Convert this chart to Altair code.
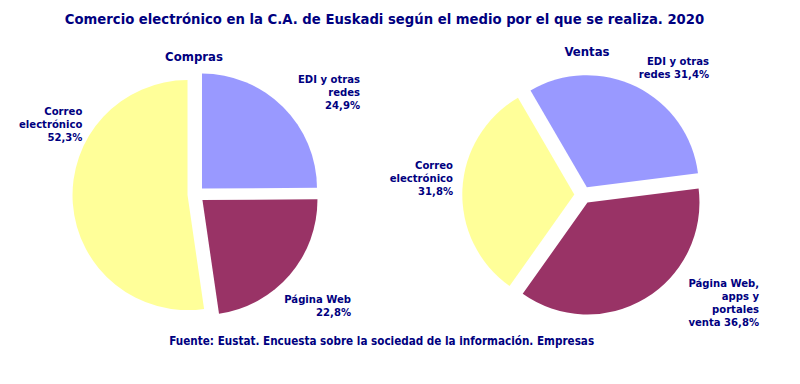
import math
import altair as alt
import pandas as pd

# ---- data ----
categories = ["EDI y otras redes", "Página Web", "Correo electrónico"]
compras_values = [24.9, 22.8, 52.3]
ventas_values = [31.4, 36.8, 31.8]
compras_label_templates = ["EDI y otras\nredes\n{v}%", "Página Web\n{v}%", "Correo\nelectrónico\n{v}%"]
ventas_label_templates = ["EDI y otras\nredes {v}%", "Página Web,\napps y\nportales\nventa {v}%", "Correo\nelectrónico\n{v}%"]
slice_colors = ["#9999FF", "#993366", "#FFFF99"]
title_text = "Comercio electrónico en la C.A. de Euskadi según el medio por el que se realiza. 2020"
pie_titles = ["Compras", "Ventas"]
source_text = "Fuente: Eustat. Encuesta sobre la sociedad de la información. Empresas"

# ---- style / layout ----
FONT = "DejaVu Sans Condensed, Tahoma, DejaVu Sans"
NAVY = "#000080"
W, H = 784, 368
OFF = 8  # page margin (page coords -> chart coords)
LINE_H = 13


def fmt(v):
    return f"{v:.1f}".replace(".", ",")


def pie_layer(values, cx, cy, r, start_deg, explode):
    df = pd.DataFrame({"category": categories, "value": values, "order": list(range(len(values)))})
    start = math.radians(start_deg)
    return (
        alt.Chart(df)
        .transform_joinaggregate(total="sum(value)")
        .transform_window(cum="sum(value)", sort=[alt.SortField("order")], frame=[None, 0])
        .transform_calculate(
            t0=f"{start} + 2*PI*(datum.cum - datum.value)/datum.total",
            t1=f"{start} + 2*PI*datum.cum/datum.total",
        )
        .transform_calculate(mid="(datum.t0 + datum.t1)/2")
        .transform_calculate(
            px=f"{cx} + {explode}*sin(datum.mid)",
            py=f"{cy} - {explode}*cos(datum.mid)",
        )
        .mark_arc(outerRadius=r)
        .encode(
            theta=alt.Theta("t0:Q", scale=None, stack=None),
            theta2="t1:Q",
            x=alt.X("px:Q", scale=None, axis=None),
            y=alt.Y("py:Q", scale=None, axis=None),
            color=alt.Color("category:N", scale=alt.Scale(domain=categories, range=slice_colors), legend=None),
        )
    )


def text_layer(text, x, y, size=11.2, align="right", baseline="middle"):
    n = text.count("\n")
    y = y - n * (LINE_H - 12.3) / 2
    return alt.Chart(pd.DataFrame({"t": [text]})).mark_text(
        font=FONT, fontWeight="bold", fontSize=size, color=NAVY,
        align=align, baseline=baseline, lineBreak="\n", lineHeight=LINE_H,
    ).encode(x=alt.value(x - OFF), y=alt.value(y - OFF), text="t:N")


layers = []
layers.append(pie_layer(compras_values, 196 - OFF, 194.5 - OFF, 115, 0, 8.5))
layers.append(pie_layer(ventas_values, 583 - OFF, 195 - OFF, 112, -30.2, 8.7))

# labels
compras_pos = [(360, 80.5), (351, 300), (82.3, 112.7)]
ventas_pos = [(709, 62.7), (759, 285), (453, 166.7)]
for tmpl, v, (x, y) in zip(compras_label_templates, compras_values, compras_pos):
    layers.append(text_layer(tmpl.format(v=fmt(v)), x, y))
for tmpl, v, (x, y) in zip(ventas_label_templates, ventas_values, ventas_pos):
    layers.append(text_layer(tmpl.format(v=fmt(v)), x, y))

layers.append(text_layer(title_text, 384.5, 20, size=14.7, align="center"))
layers.append(text_layer(pie_titles[0], 194, 57, size=13, align="center"))
layers.append(text_layer(pie_titles[1], 587, 51.7, size=13, align="center"))
layers.append(text_layer(source_text, 169.3, 341.7, size=11.6, align="left"))

chart = (
    alt.layer(*layers)
    .properties(width=W, height=H, padding=0, background="white",
                autosize=alt.AutoSizeParams(type="none"))
    .configure_view(strokeWidth=0, stroke="transparent")
)

chart.save("out.html", embed_options={"renderer": "svg", "actions": False})
